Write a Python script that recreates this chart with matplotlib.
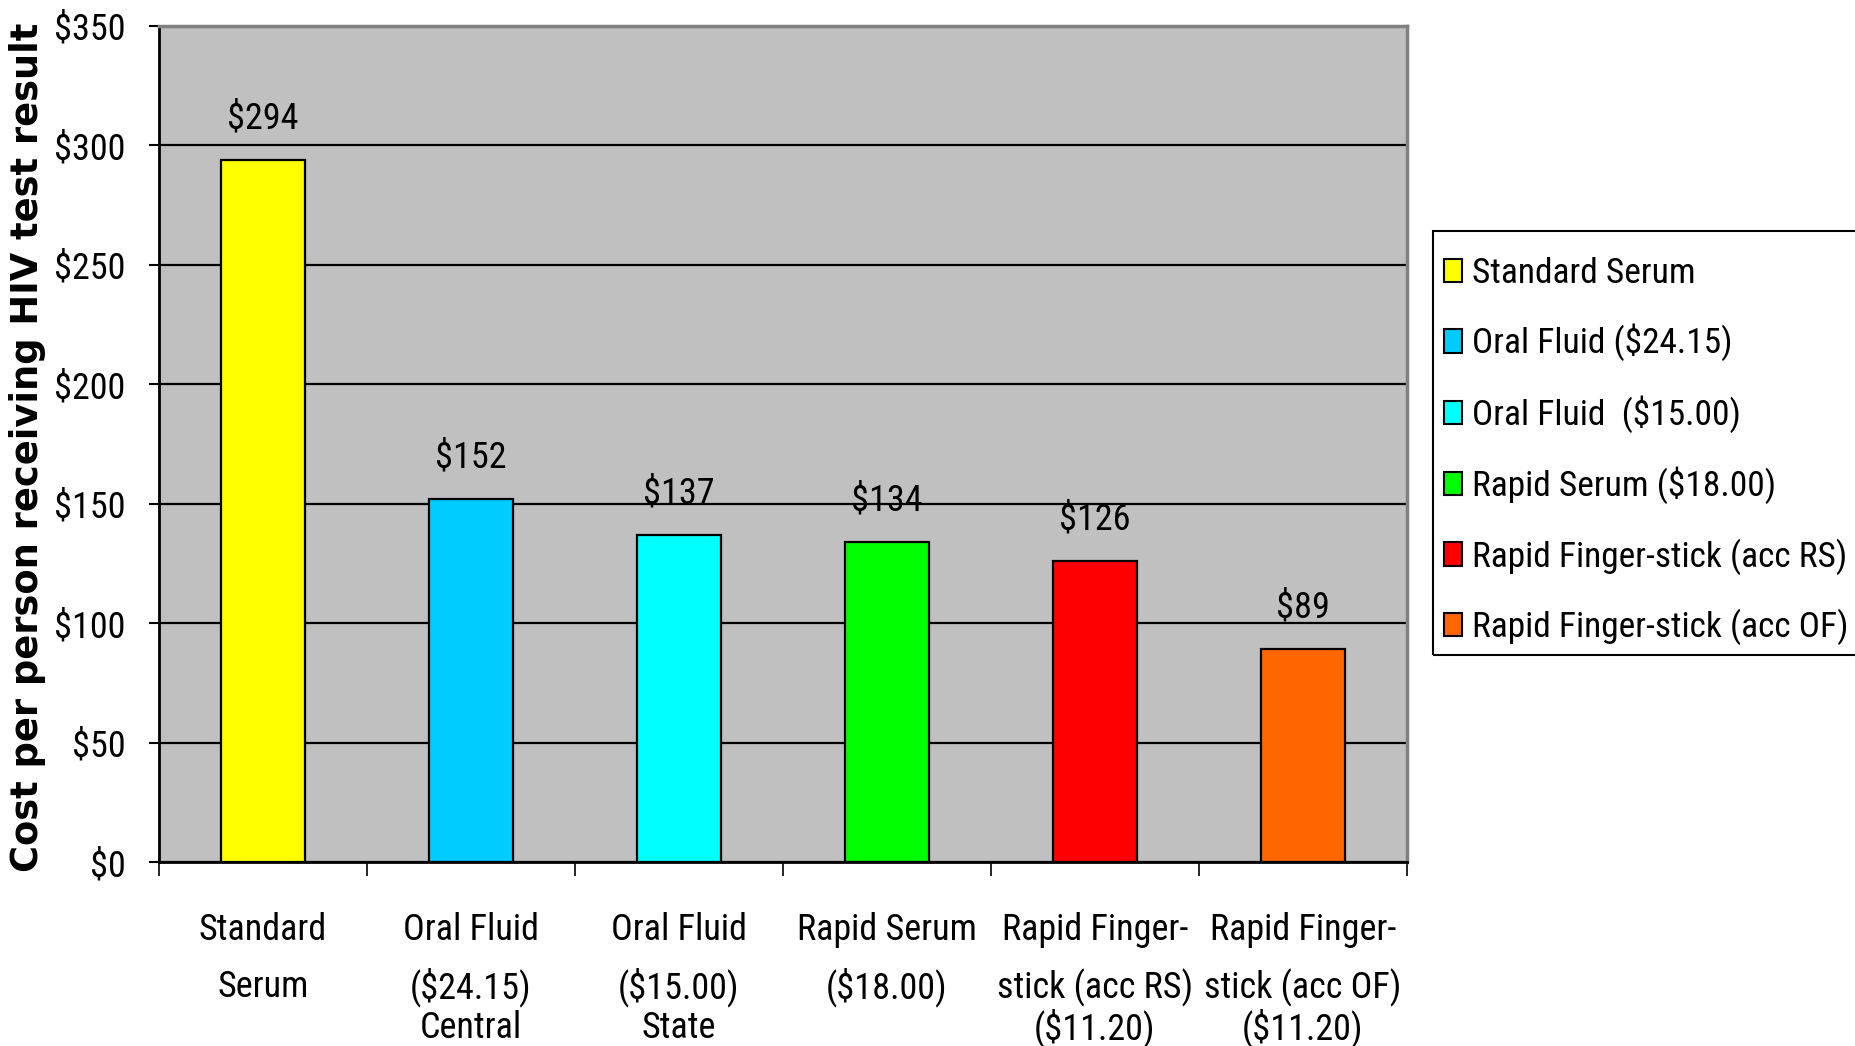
import matplotlib
matplotlib.use('Agg')
import matplotlib.pyplot as plt
from matplotlib.patches import Patch, Rectangle
from matplotlib.transforms import blended_transform_factory

# cost per person receiving an HIV test result, by testing strategy
strategies = ['Standard Serum', 'Oral Fluid ($24.15)', 'Oral Fluid  ($15.00)',
              'Rapid Serum ($18.00)', 'Rapid Finger-stick (acc RS)',
              'Rapid Finger-stick (acc OF)']
costs = [294, 152, 137, 134, 126, 89]
bar_colors = ['#FFFF00', '#00CCFF', '#00FFFF', '#00FF00', '#FF0000', '#FF6600']

# category text under the axis, one list per line
label_line1 = ['Standard', 'Oral Fluid', 'Oral Fluid', 'Rapid Serum',
               'Rapid Finger-', 'Rapid Finger-']
label_line2 = ['Serum', '($24.15)', '($15.00)', '($18.00)',
               'stick (acc RS)', 'stick (acc OF)']
label_line3 = ['', 'Central', 'State', '', '($11.20)', '($11.20)']

y_ticks = [0, 50, 100, 150, 200, 250, 300, 350]
y_ticklabels = ['$0', '$50', '$100', '$150', '$200', '$250', '$300', '$350']

plt.rcParams['font.family'] = ['Roboto Condensed', 'Liberation Sans']
FS = 26

W, H = 1856, 1046
fig = plt.figure(figsize=(W / 100, H / 100), dpi=100)
ax = fig.add_axes([159 / W, 1 - 862 / H, (1407 - 159) / W, (862 - 26) / H])
ax.set_facecolor('#C0C0C0')

x = list(range(len(costs)))
for i in x:
    ax.bar(i, costs[i], width=0.4, color=bar_colors[i], edgecolor='black',
           linewidth=1.6, zorder=3)
    ax.annotate('$%d' % costs[i], (i, costs[i]), xytext=(0, 30),
                textcoords='offset points', ha='center', va='center',
                fontsize=FS)

ax.set_xlim(-0.5, 5.5)
ax.set_ylim(0, 350)
ax.set_yticks(y_ticks)
ax.set_yticklabels(y_ticklabels, fontsize=FS)
ax.set_xticks([i - 0.5 for i in range(len(costs) + 1)])
ax.set_xticklabels([])
ax.tick_params(axis='y', direction='out', length=7, width=1.5, pad=17)
ax.tick_params(axis='x', direction='out', length=10, width=1.2)

ax.yaxis.grid(True, color='black', linewidth=1.6)
ax.set_axisbelow(True)

for side in ['left', 'bottom']:
    ax.spines[side].set_color('black')
    ax.spines[side].set_linewidth(2)
for side in ['top', 'right']:
    ax.spines[side].set_color('#808080')
    ax.spines[side].set_linewidth(2.5)

# multi-line category labels below the axis
trans = blended_transform_factory(ax.transData, ax.transAxes)
for i in x:
    ax.text(i, -0.081, label_line1[i], transform=trans, ha='center',
            va='center', fontsize=FS, clip_on=False)
    ax.text(i, -0.150, label_line2[i], transform=trans, ha='center',
            va='center', fontsize=FS, clip_on=False)
    if label_line3[i]:
        ax.text(i, -0.199, label_line3[i], transform=trans, ha='center',
                va='center', fontsize=FS, clip_on=False)

fig.text(28 / W, 1 - 447 / H, 'Cost per person receiving HIV test result',
         rotation=90, ha='center', va='center', fontsize=26.5,
         fontweight='bold', family='DejaVu Sans')

# legend entries without a frame, box drawn separately so it runs off the edge
handles = [Patch(facecolor=c, edgecolor='black', linewidth=1.5) for c in bar_colors]
leg = fig.legend(handles, strategies, loc='upper left',
                 bbox_to_anchor=(1444 / W, 1 - 257 / H),
                 bbox_transform=fig.transFigure, borderaxespad=0, borderpad=0,
                 fontsize=25.5, frameon=False,
                 handlelength=0.5, handleheight=0.64, handletextpad=0.28,
                 labelspacing=0.955)
fig.add_artist(Rectangle((1433 / W, 1 - 655 / H), (1880 - 1433) / W, (655 - 231) / H,
                         transform=fig.transFigure, fill=False,
                         edgecolor='black', linewidth=1.5))

fig.savefig('out.png', dpi=100)
